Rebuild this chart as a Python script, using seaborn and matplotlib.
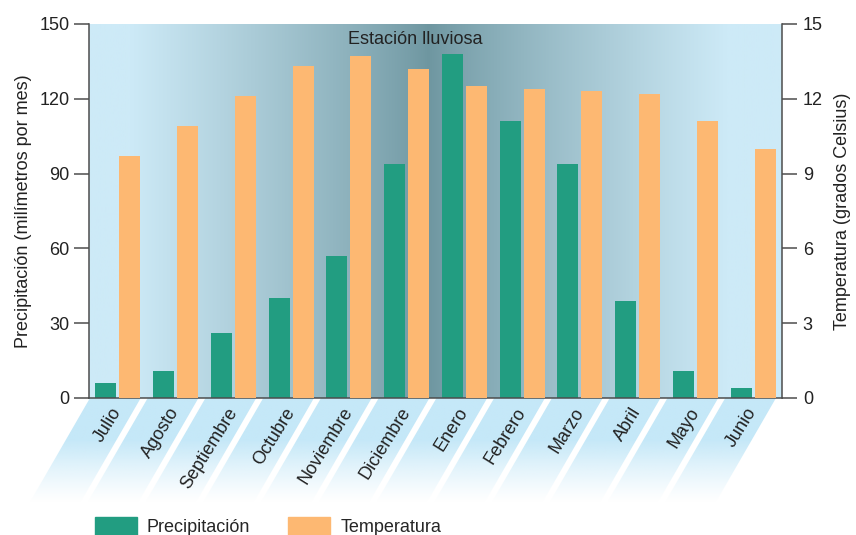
import numpy as np
import pandas as pd
import matplotlib.pyplot as plt
import seaborn as sns
from matplotlib.colors import to_rgb
from matplotlib.patches import Polygon, Patch

# datos
meses = ["Julio", "Agosto", "Septiembre", "Octubre", "Noviembre", "Diciembre",
         "Enero", "Febrero", "Marzo", "Abril", "Mayo", "Junio"]
precipitacion = [6, 11, 26, 40, 57, 94, 138, 111, 94, 39, 11, 4]
temperatura = [9.7, 10.9, 12.1, 13.3, 13.7, 13.2, 12.5, 12.4, 12.3, 12.2, 11.1, 10.0]
series = ["Precipitación", "Temperatura"]

verde = "#229d81"
naranja = "#fdb872"
claro = np.array(to_rgb("#cdeaf7"))
oscuro = np.array(to_rgb("#6e96a0"))
gris = "#4d4d4d"
texto = "#222222"

sns.set_style("white")
plt.rcParams["font.family"] = ["Liberation Sans", "DejaVu Sans"]
plt.rcParams["font.size"] = 13

W, H = 856, 535
fig = plt.figure(figsize=(W / 100, H / 100), dpi=100)
ax = fig.add_axes([89 / W, 1 - 398 / H, (782 - 89) / W, (398 - 24) / H])
ax2 = ax.twinx()

df_p = pd.DataFrame({"mes": meses, "serie": series[0], "valor": precipitacion})
df_t = pd.DataFrame({"mes": meses, "serie": series[1], "valor": temperatura})

opts = dict(x="mes", y="valor", hue="serie", hue_order=series, order=meses,
            palette=[verde, naranja], width=0.83, gap=0.125, saturation=1,
            dodge=True, legend=False, linewidth=0, zorder=2)
sns.barplot(data=df_p, ax=ax, **opts)
sns.barplot(data=df_t, ax=ax2, **opts)

# fondo degradado (mas oscuro en el centro)
xs = np.linspace(0, 1, 700)
d = np.abs(xs - 0.49) / 0.49
f = np.clip(d / 0.88, 0, 1) ** 0.85
grad = oscuro[None, :] + (claro - oscuro)[None, :] * f[:, None]
ax.imshow(grad[None, :, :], extent=(-0.5, 11.5, 0, 150), aspect="auto", zorder=0)

ax.set_xlim(-0.5, 11.5)
ax.set_ylim(0, 150)
ax2.set_ylim(0, 15)
ax.set_yticks([0, 30, 60, 90, 120, 150])
ax2.set_yticks([0, 3, 6, 9, 12, 15])

for a in (ax, ax2):
    a.set_xlabel("")
    a.spines["top"].set_visible(False)
    for s in a.spines.values():
        s.set_color(gris)
        s.set_linewidth(1.1)
ax.spines["right"].set_visible(False)
ax2.spines["left"].set_visible(False)
ax2.spines["bottom"].set_visible(False)

ax.tick_params(axis="y", left=True, length=11, width=1.1, color=gris, pad=3,
               labelsize=13, labelcolor=texto)
ax2.tick_params(axis="y", right=True, length=11, width=1.1, color=gris, pad=4,
                labelsize=13, labelcolor=texto)
ax.tick_params(axis="x", length=0, pad=8, labelsize=13, labelcolor=texto)
ax.set_xticks(range(len(meses)))
ax.set_xticklabels(meses, rotation=58, ha="right", va="center", rotation_mode="anchor")
ax.set_ylabel("Precipitación (milímetros por mes)", fontsize=13, color=texto, labelpad=5)
ax2.set_ylabel("Temperatura (grados Celsius)", fontsize=13, color=texto, labelpad=8)
ax2.set_xlabel("")

fig.text(415 / W, 1 - 40 / H, "Estación lluviosa", ha="center", va="center",
         fontsize=13, color=texto)

# franjas inclinadas bajo el eje x
sax = fig.add_axes([30 / W, 1 - 505 / H, (782 - 30) / W, (505 - 398) / H], zorder=-1)
unidad = (782 - 89) / 12
x_izq = -0.5 - (89 - 30) / unidad
alto = 105
desp = alto * np.tan(np.radians(30)) / unidad
ys = np.linspace(0, 1, 100)
alfa = np.clip((1 - ys) / 0.6, 0, 1) ** 1.2
franja = np.zeros((100, 1, 4))
franja[:, 0, :3] = to_rgb("#c5e8f8")
franja[:, 0, 3] = alfa
for i in range(len(meses)):
    xl = i - 0.5 + 1 / unidad
    xr = i + 0.5 - 6 / unidad
    poly = Polygon([(xl, 0), (xr, 0), (xr - desp, -alto), (xl - desp, -alto)],
                   closed=True, facecolor="none", edgecolor="none")
    sax.add_patch(poly)
    im = sax.imshow(franja, extent=(xl - desp, xr, -alto, 0), aspect="auto")
    im.set_clip_path(poly)
sax.set_xlim(x_izq, 11.5)
sax.set_ylim(-107, 0)
sax.axis("off")

handles = [Patch(color=verde, label=series[0]), Patch(color=naranja, label=series[1])]
fig.legend(handles=handles, loc="lower left", bbox_to_anchor=(95 / W, -1 / H),
           ncol=2, frameon=False, fontsize=13, handlelength=2.33, handleheight=1.15,
           handletextpad=0.55, columnspacing=2.1, borderpad=0, borderaxespad=0)

fig.savefig("out.png", dpi=100)
